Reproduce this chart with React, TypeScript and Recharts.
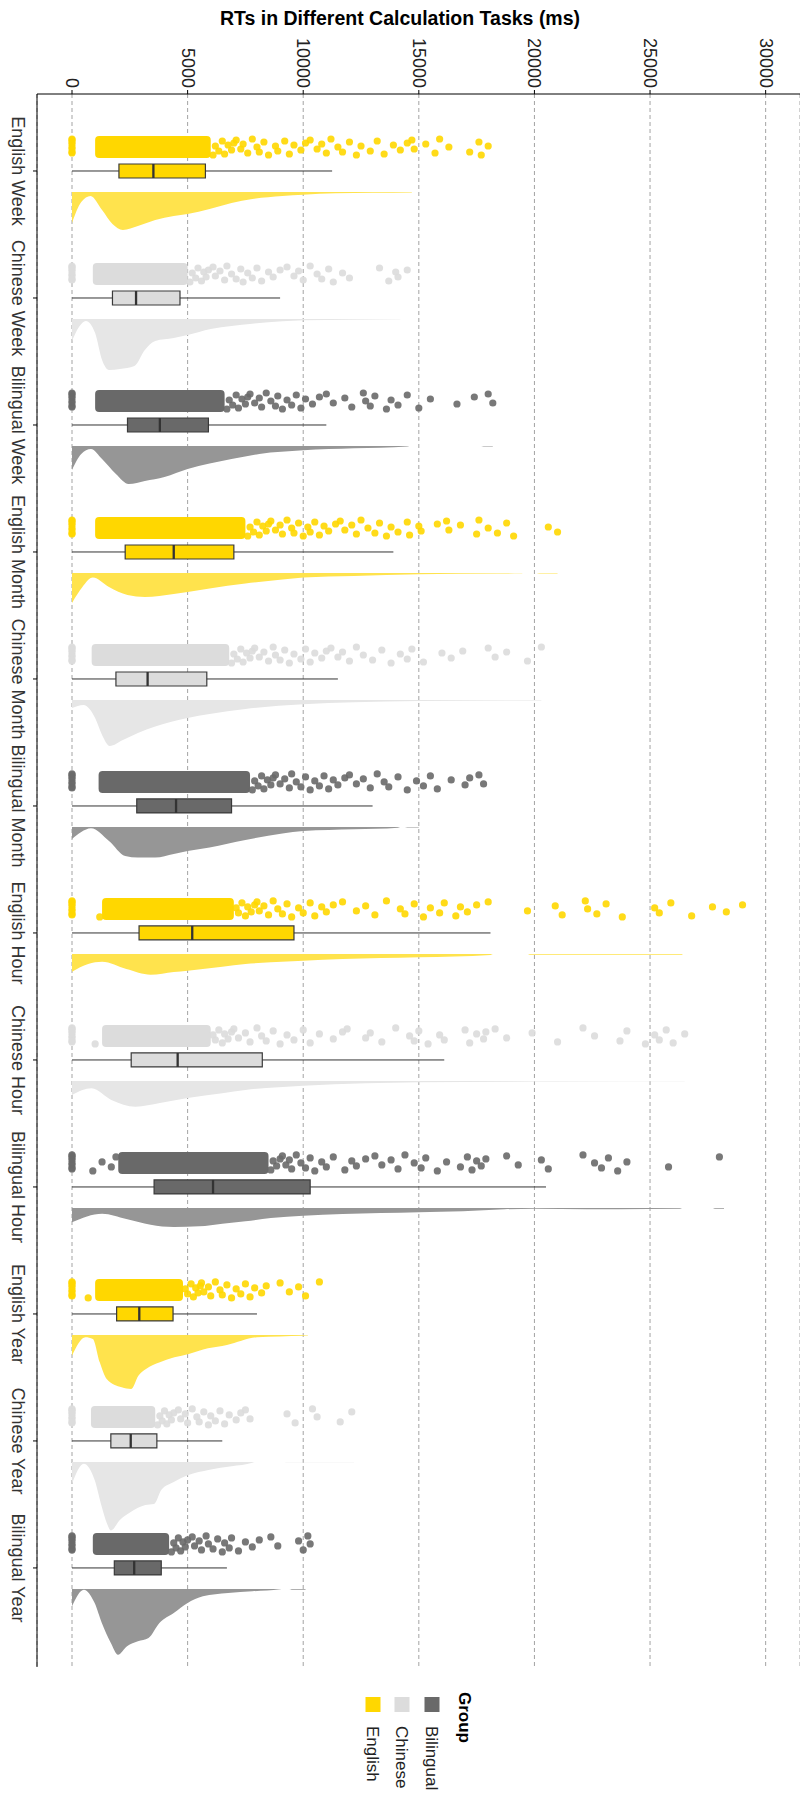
import {
    ComposedChart,
    XAxis,
    YAxis,
    CartesianGrid,
    Area,
    Scatter,
    ReferenceArea,
    ReferenceLine,
} from 'recharts';

const categories = [
    'English Week', 'Chinese Week', 'Bilingual Week',
    'English Month', 'Chinese Month', 'Bilingual Month',
    'English Hour', 'Chinese Hour', 'Bilingual Hour',
    'English Year', 'Chinese Year', 'Bilingual Year',
];
const groupNames = ['English', 'Chinese', 'Bilingual'];
const xTicks = [0, 5000, 10000, 15000, 20000, 25000, 30000];

// [lower whisker, Q1, median, Q3, upper whisker] in ms
const boxStats = [
    [0, 2030, 3520, 5770, 11250],
    [0, 1750, 2770, 4670, 9000],
    [0, 2400, 3800, 5900, 11000],
    [0, 2300, 4400, 7000, 13900],
    [0, 1900, 3270, 5830, 11500],
    [0, 2800, 4500, 6900, 13000],
    [0, 2900, 5200, 9600, 18100],
    [0, 2560, 4570, 8230, 16100],
    [0, 3550, 6100, 10300, 20500],
    [0, 1930, 2910, 4370, 8000],
    [0, 1680, 2540, 3670, 6500],
    [0, 1830, 2690, 3860, 6700],
];

// span of the solid mass of overlapping points (ms)
const coreRanges = [
    [1000, 6000], [900, 5000], [1000, 6600],
    [1000, 7500], [850, 6800], [1150, 7700],
    [1300, 7000], [1300, 6000], [2000, 8500],
    [1000, 4800], [820, 3600], [900, 4200],
];

// single raw points outside the solid mass (ms); zeros are the timeouts
const pointValues = [
    [0, 0, 0, 0, 0, 0, 0, 0, 6100, 6200, 6350, 6500, 6600, 6750, 6900, 7000, 7100, 7300, 7400, 7600, 7800, 8000, 8100, 8300, 8500, 8800, 8900, 9200, 9400, 9600, 9900, 10100, 10300, 10600, 10800, 11000, 11200, 11500, 11700, 12000, 12300, 12500, 12900, 13200, 13500, 13900, 14200, 14500, 14700, 14800, 15300, 15700, 15900, 16300, 17200, 17600, 17700, 18000],
    [0, 0, 0, 0, 0, 0, 0, 0, 5100, 5200, 5350, 5450, 5600, 5700, 5800, 5900, 6100, 6200, 6400, 6600, 6700, 6900, 7100, 7300, 7400, 7600, 7800, 8000, 8200, 8500, 8700, 9000, 9300, 9600, 9800, 10000, 10300, 10600, 10800, 11100, 11300, 11700, 12000, 13300, 13700, 14000, 14100, 14500],
    [0, 0, 0, 0, 0, 0, 0, 0, 6700, 6800, 6950, 7100, 7200, 7350, 7500, 7600, 7700, 7900, 8100, 8200, 8400, 8600, 8800, 8900, 9100, 9300, 9500, 9700, 9900, 10100, 10400, 10700, 11000, 11300, 11800, 12100, 12600, 12700, 12900, 13100, 13600, 13800, 14100, 14500, 15000, 15500, 16650, 17400, 18000, 18200],
    [0, 0, 0, 0, 0, 0, 0, 0, 7600, 7700, 7850, 8000, 8100, 8250, 8400, 8500, 8600, 8800, 9000, 9100, 9300, 9500, 9600, 9800, 10000, 10200, 10300, 10500, 10700, 10900, 11100, 11400, 11600, 11800, 12100, 12300, 12500, 12800, 13100, 13300, 13600, 13800, 14100, 14500, 14600, 15000, 15100, 15800, 16200, 16300, 16800, 17500, 17600, 18000, 18400, 18800, 19100, 20600, 21000],
    [0, 0, 0, 0, 0, 0, 0, 0, 6900, 7000, 7150, 7300, 7400, 7550, 7700, 7800, 7900, 8100, 8300, 8500, 8700, 8800, 9000, 9200, 9400, 9600, 9900, 10100, 10300, 10500, 10800, 11000, 11200, 11500, 11700, 12000, 12300, 12600, 13000, 13400, 13800, 14200, 14500, 14700, 15200, 16000, 16400, 16900, 18000, 18300, 18800, 19700, 20300],
    [0, 0, 0, 0, 0, 0, 0, 0, 7800, 7900, 8050, 8200, 8300, 8450, 8600, 8700, 8800, 9000, 9200, 9400, 9500, 9700, 9900, 10100, 10300, 10500, 10700, 10900, 11100, 11300, 11500, 11800, 12000, 12300, 12600, 12900, 13200, 13500, 13700, 14100, 14500, 14900, 15200, 15500, 15800, 16400, 17000, 17200, 17600, 17800],
    [0, 0, 0, 0, 0, 0, 0, 0, 1200, 7100, 7200, 7350, 7500, 7600, 7750, 7900, 8000, 8100, 8300, 8500, 8700, 8900, 9100, 9300, 9500, 9800, 10000, 10300, 10500, 10800, 11000, 11300, 11700, 12300, 12700, 13100, 13600, 14200, 14400, 14800, 15200, 15500, 15900, 16100, 16600, 16800, 17100, 17500, 18000, 19700, 20900, 21200, 22200, 22300, 22700, 23100, 23800, 25200, 25400, 25900, 26800, 27700, 28300, 29000],
    [0, 0, 0, 0, 0, 0, 0, 0, 1000, 6100, 6200, 6350, 6500, 6600, 6750, 6900, 7000, 7200, 7500, 7700, 8000, 8200, 8400, 8700, 9000, 9300, 9600, 10000, 10300, 10700, 11300, 11700, 11900, 12700, 12900, 13400, 14000, 14600, 14800, 15000, 15400, 15900, 16100, 17000, 17200, 17500, 17800, 17900, 18300, 18800, 19900, 21000, 22100, 22600, 23700, 24000, 24800, 25200, 25400, 25700, 26000, 26500],
    [0, 0, 0, 0, 0, 0, 0, 0, 900, 1300, 1700, 1900, 8600, 8700, 8850, 9000, 9100, 9250, 9400, 9500, 9700, 9900, 10100, 10300, 10500, 10800, 11000, 11300, 11800, 12100, 12300, 12700, 13100, 13400, 13800, 14100, 14400, 14800, 15100, 15300, 15800, 16200, 16800, 17100, 17300, 17500, 17700, 17900, 18800, 19300, 20300, 20600, 22100, 22600, 22900, 23200, 23600, 24000, 25800, 28000],
    [0, 0, 0, 0, 0, 0, 0, 0, 700, 4900, 5000, 5150, 5250, 5350, 5450, 5550, 5600, 5700, 5900, 6000, 6200, 6400, 6500, 6700, 6900, 7100, 7300, 7500, 7700, 7900, 8200, 8400, 9000, 9400, 9800, 10100, 10700],
    [0, 0, 0, 0, 0, 0, 0, 0, 3700, 3800, 3900, 4000, 4100, 4200, 4300, 4400, 4600, 4700, 4900, 5000, 5200, 5400, 5500, 5700, 5900, 6000, 6200, 6400, 6600, 6800, 7100, 7300, 7500, 7700, 9300, 9650, 10400, 10600, 11600, 12100],
    [0, 0, 0, 0, 0, 0, 0, 0, 4300, 4400, 4500, 4600, 4700, 4800, 4900, 5000, 5200, 5300, 5500, 5600, 5800, 5900, 6100, 6300, 6500, 6600, 6800, 6900, 7200, 7500, 7800, 8100, 8600, 8900, 9800, 10000, 10200, 10300],
];

// half-violin density: [ms, relative height]
const densityCurves = [
    [[0, 31], [400, 10], [800, 4], [1300, 18], [1750, 32], [2200, 38], [2850, 34], [3600, 28], [4400, 24], [5000, 22], [5950, 17], [6900, 11], [7800, 7], [9100, 4], [10000, 2.7], [11400, 1.3], [13000, 0.8], [14700, 0.4]],
    [[0, 22], [300, 8], [600, 2], [1000, 14], [1300, 41], [1600, 51], [2070, 50], [2700, 47], [3150, 31], [3600, 22], [4400, 19], [5000, 16], [6000, 10], [6900, 7], [7800, 4.7], [9100, 2.3], [10000, 1.3], [12000, 0.7], [14200, 0.3]],
    [[0, 24], [400, 8], [820, 3], [1300, 13], [1900, 28], [2450, 38], [3150, 35], [4000, 31], [5000, 23], [5950, 17.5], [6900, 13], [8100, 8], [10000, 4.3], [12200, 2.3], [14500, 0.4], [14600, 0], [17700, 0], [17800, 0.6], [18200, 0.6]],
    [[0, 30], [450, 14], [900, 4.6], [1600, 14], [2400, 22], [3150, 24], [4400, 21], [5000, 19], [5950, 15.5], [7500, 10.6], [9100, 6.6], [10000, 4.6], [12200, 3], [15000, 1.3], [18400, 0.5], [19400, 0.3], [19500, 0], [20100, 0], [20200, 0.4], [21000, 0.4]],
    [[0, 8], [500, 5], [1000, 18], [1300, 35], [1630, 46], [2200, 40], [2850, 33], [3600, 26.5], [5000, 18], [5950, 14], [7500, 9], [10000, 4.3], [12200, 2.3], [15000, 0.9], [20300, 0.4]],
    [[0, 12], [400, 5], [820, 1.3], [1600, 14], [2300, 29], [2850, 30.5], [3600, 30.5], [4400, 27], [5000, 24], [5950, 20.5], [7500, 13], [9100, 6.6], [10000, 4], [12200, 2.3], [14100, 0.7], [14200, 0], [14400, 0], [14500, 0.5], [15000, 0.5]],
    [[0, 17.7], [700, 10], [1300, 7.7], [2350, 15], [3400, 20.7], [4400, 18], [5000, 16.7], [6500, 12.7], [7500, 10], [8600, 8.3], [10000, 6.7], [11700, 5], [15000, 3.3], [18100, 1], [18200, 0], [19700, 0], [19800, 0.7], [26400, 0.7]],
    [[0, 14], [850, 7.3], [1700, 19], [2750, 25.7], [3800, 22], [5000, 17], [6500, 12.3], [7500, 9], [10000, 4.7], [12700, 2.3], [15000, 1.3], [19000, 0.7], [21000, 0.5], [26500, 0.4]],
    [[0, 14.4], [1300, 5.7], [2350, 11], [3400, 16.7], [4400, 19], [5500, 18.4], [6500, 15.7], [7500, 13.4], [8600, 10], [10000, 7.7], [11700, 6], [15000, 4.3], [16900, 3.3], [18700, 1.3], [20000, 0.7], [22300, 1.2], [23600, 1.2], [26300, 0.7], [26400, 0], [27700, 0], [27800, 0.7], [28200, 0.7]],
    [[0, 20.7], [580, 2.3], [900, 4], [1200, 27.4], [1500, 44], [2150, 52.4], [2560, 54], [2870, 40.7], [3200, 34], [3800, 27.4], [4430, 22.4], [5050, 19], [5880, 13.4], [6700, 10], [8000, 2.3], [10000, 0.7], [10200, 0.5]],
    [[0, 21.7], [510, 1.7], [980, 18], [1290, 45], [1520, 62], [1680, 68.5], [2070, 58], [2540, 50], [3170, 43], [3550, 42], [3860, 28], [4400, 20], [5000, 13.4], [5950, 7.7], [6900, 4.3], [7800, 0.7], [7900, 0], [9200, 0], [9300, 0.3], [12200, 0.3]],
    [[0, 17.4], [510, 0.7], [980, 14], [1290, 34], [1680, 54], [1990, 65.8], [2380, 57.4], [2850, 52.4], [3310, 49], [3780, 34], [4400, 24], [5000, 14], [5660, 7.3], [6750, 4], [7800, 2.3], [9000, 0.3], [9100, 0], [9400, 0], [9500, 0.7], [10100, 0.7]],
];

const PALETTE: Record<string, { dot: string; box: string; dens: string }> = {
    English: { dot: '#FFD700', box: '#FFD700', dens: '#FFE34D' },
    Chinese: { dot: '#DCDCDC', box: '#DCDCDC', dens: '#E6E6E6' },
    Bilingual: { dot: '#696969', box: '#696969', dens: '#969696' },
};

const FONT = '"Liberation Sans", Arial, sans-serif';
const PX = 1 / 127; // one pixel in category units
const DOT_OFFSET = -24 * PX;
const DENS_OFFSET = 21 * PX;
const BOX_HALF = 7 * PX;
const BAND_HALF = 11 * PX;
const JITTER = [-7, 2, -3, 6, -8, 0, 5, -5, 8, -1, 4, -6, 7, -2, 3, -4];

const groupOf = (i: number) => groupNames[i % 3];

// shared x grid for all density areas
const densX = Array.from(new Set(densityCurves.flatMap((c) => c.map((p) => p[0])))).sort((a, b) => a - b);
const densityRows = densX.map((x) => {
    const row: Record<string, any> = { x };
    densityCurves.forEach((curve, i) => {
        const pt = curve.find((p) => p[0] === x);
        if (pt) row[`d${i}`] = [i + DENS_OFFSET, i + DENS_OFFSET + pt[1] * PX];
    });
    return row;
});

const scatterData = pointValues.map((vals, i) =>
    vals.map((v, k) => ({ x: v, y: i + DOT_OFFSET + JITTER[k % JITTER.length] * PX }))
);

const XTick = ({ x, y, payload }: any) => (
    <text
        transform={`translate(${x},${y}) rotate(90)`}
        textAnchor="end"
        dominantBaseline="central"
        fontSize={18}
        fontFamily={FONT}
        fill="#222"
    >
        {payload.value}
    </text>
);

const YTick = ({ x, y, payload }: any) => (
    <text
        transform={`translate(${x - 13},${y}) rotate(90)`}
        textAnchor="middle"
        dominantBaseline="central"
        fontSize={18}
        fontFamily={FONT}
        fill="#333"
    >
        {categories[payload.value]}
    </text>
);

const legendItems = [
    { name: 'Bilingual', x: 432 },
    { name: 'Chinese', x: 402 },
    { name: 'English', x: 373 },
];

export default function App() {
    return (
        <div style={{ position: 'absolute', left: 0, top: 0, width: 800, height: 1798, fontFamily: FONT, background: '#fff' }}>
            <div
                style={{
                    position: 'absolute',
                    left: 0,
                    top: 6,
                    width: 800,
                    textAlign: 'center',
                    fontWeight: 'bold',
                    fontSize: 19.5,
                    lineHeight: '24px',
                    color: '#000',
                }}
            >
                RTs in Different Calculation Tasks (ms)
            </div>

            <ComposedChart
                width={800}
                height={1798}
                data={densityRows}
                margin={{ top: 34, right: 0, bottom: 131, left: 7 }}
            >
                <CartesianGrid horizontal={false} stroke="#a3a3a3" strokeDasharray="4 3" />
                <XAxis
                    dataKey="x"
                    type="number"
                    orientation="top"
                    domain={[-1514, 31486]}
                    ticks={xTicks}
                    interval={0}
                    allowDataOverflow
                    height={60}
                    tickSize={4}
                    stroke="#000"
                    tick={<XTick />}
                />
                <YAxis
                    dataKey="y"
                    type="number"
                    domain={[-0.6063, 11.78]}
                    reversed
                    ticks={categories.map((_, i) => i)}
                    interval={0}
                    allowDataOverflow
                    width={30}
                    tickSize={4}
                    stroke="#000"
                    tick={<YTick />}
                />

                {densityCurves.map((_, i) => (
                    <Area
                        key={`dens-${i}`}
                        dataKey={`d${i}`}
                        type="monotone"
                        stroke="none"
                        fill={PALETTE[groupOf(i)].dens}
                        fillOpacity={1}
                        connectNulls
                        dot={false}
                        activeDot={false}
                        isAnimationActive={false}
                    />
                ))}

                {coreRanges.map(([a, b], i) => (
                    <ReferenceArea
                        key={`core-${i}`}
                        x1={a}
                        x2={b}
                        y1={i + DOT_OFFSET - BAND_HALF}
                        y2={i + DOT_OFFSET + BAND_HALF}
                        shape={(p: any) => (
                            <rect x={p.x} y={p.y} width={p.width} height={p.height} rx={4} fill={PALETTE[groupOf(i)].dot} />
                        )}
                    />
                ))}

                {scatterData.map((pts, i) => (
                    <Scatter
                        key={`pts-${i}`}
                        data={pts}
                        isAnimationActive={false}
                        shape={(p: any) => (
                            <circle cx={p.cx} cy={p.cy} r={3.6} fill={PALETTE[groupOf(i)].dot} fillOpacity={0.9} />
                        )}
                    />
                ))}

                {boxStats.map(([lo, q1], i) => (
                    <ReferenceLine
                        key={`wl-${i}`}
                        segment={[{ x: lo, y: i }, { x: q1, y: i }]}
                        stroke="#333"
                        strokeWidth={1}
                    />
                ))}
                {boxStats.map(([, , , q3, hi], i) => (
                    <ReferenceLine
                        key={`wh-${i}`}
                        segment={[{ x: q3, y: i }, { x: hi, y: i }]}
                        stroke="#333"
                        strokeWidth={1}
                    />
                ))}
                {boxStats.map(([, q1, , q3], i) => (
                    <ReferenceArea
                        key={`box-${i}`}
                        x1={q1}
                        x2={q3}
                        y1={i - BOX_HALF}
                        y2={i + BOX_HALF}
                        fill={PALETTE[groupOf(i)].box}
                        fillOpacity={1}
                        stroke="#3a3a3a"
                        strokeWidth={1.2}
                    />
                ))}
                {boxStats.map(([, , med], i) => (
                    <ReferenceArea
                        key={`med-${i}`}
                        x1={med - 50}
                        x2={med + 50}
                        y1={i - BOX_HALF}
                        y2={i + BOX_HALF}
                        fill="#333"
                        fillOpacity={1}
                        stroke="none"
                    />
                ))}
            </ComposedChart>

            <svg
                width={800}
                height={1798}
                style={{ position: 'absolute', left: 0, top: 0, pointerEvents: 'none' }}
            >
                <text
                    transform="translate(464,1692) rotate(90)"
                    textAnchor="start"
                    dominantBaseline="central"
                    fontSize={17}
                    fontWeight="bold"
                    fontFamily={FONT}
                    fill="#000"
                >
                    Group
                </text>
                {legendItems.map((it) => (
                    <g key={it.name}>
                        <rect x={it.x - 7.5} y={1697} width={15} height={15} fill={PALETTE[it.name].box} />
                        <text
                            transform={`translate(${it.x - 1},1726) rotate(90)`}
                            textAnchor="start"
                            dominantBaseline="central"
                            fontSize={17}
                            fontFamily={FONT}
                            fill="#222"
                        >
                            {it.name}
                        </text>
                    </g>
                ))}
            </svg>
        </div>
    );
}
